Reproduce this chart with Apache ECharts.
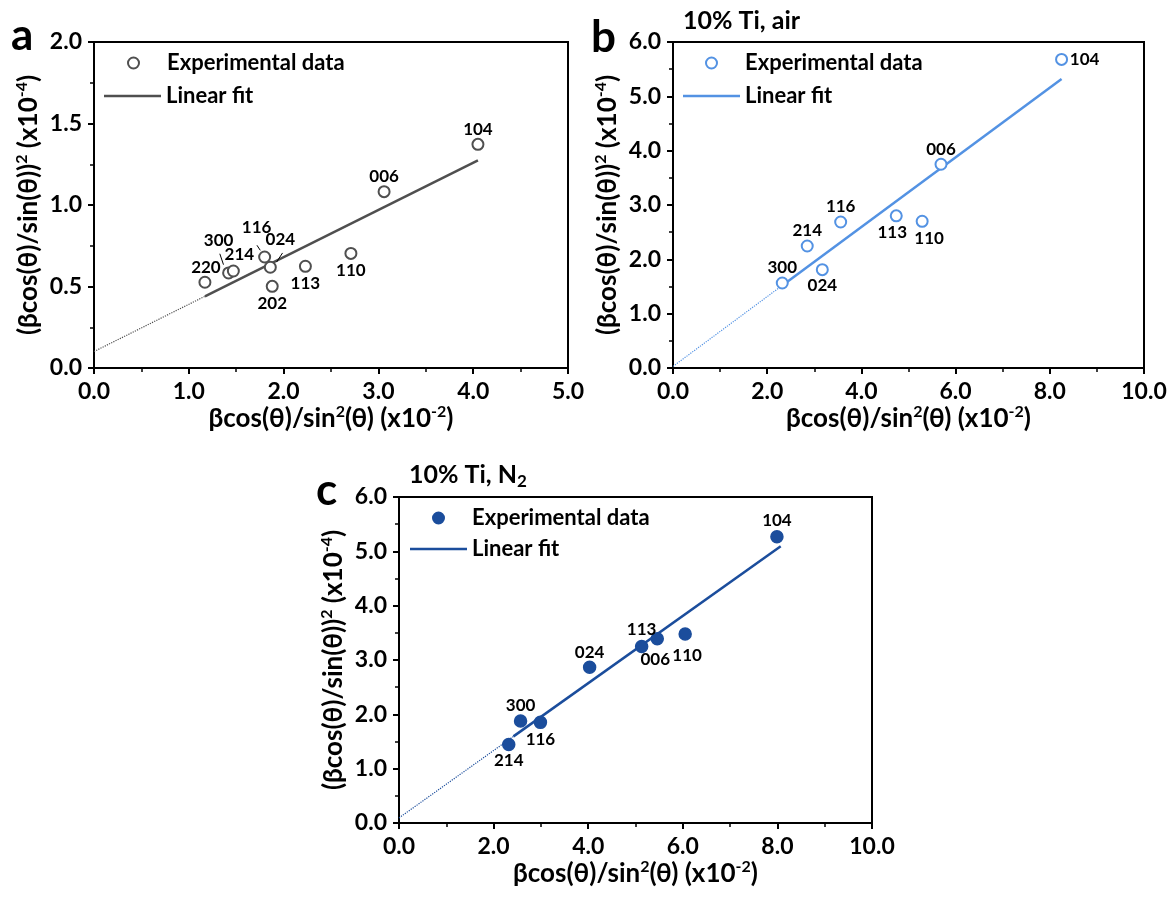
<html>
<head>
    <script src="https://cdn.jsdelivr.net/npm/echarts@6/dist/echarts.min.js"></script>
    <style>
        body { margin: 0 }
        #chart { width: 1174px; height: 899px; }
    </style>
</head>
<body>
<div id="chart"></div>
<script>
    // panel a
    const aX = [1.17, 1.42, 1.47, 1.80, 1.86, 1.88, 2.23, 2.71, 3.06, 4.05];
    const aY = [0.526, 0.583, 0.595, 0.681, 0.618, 0.501, 0.624, 0.703, 1.082, 1.372];
    const aLabels = ['220', '300', '214', '116', '024', '202', '113', '110', '006', '104'];
    const aFitX = [1.17, 4.05];
    const aFitY = [0.44, 1.274];
    const aExtX = [0, 1.17];
    const aExtY = [0.101, 0.44];
    // leader lines for crowded labels
    const aLeaders = [
        [[1.327, 0.701], [1.366, 0.634]],
        [[1.719, 0.753], [1.754, 0.722]],
        [[1.989, 0.706], [1.926, 0.650]]
    ];

    // panel b
    const bX = [2.32, 2.85, 3.17, 3.56, 4.74, 5.29, 5.69, 8.25];
    const bY = [1.564, 2.245, 1.81, 2.687, 2.80, 2.70, 3.75, 5.68];
    const bLabels = ['300', '214', '024', '116', '113', '110', '006', '104'];
    const bFitX = [2.32, 8.25];
    const bFitY = [1.52, 5.32];
    const bExtX = [0, 2.32];
    const bExtY = [0.03, 1.52];

    // panel c
    const cX = [2.32, 2.57, 2.99, 4.03, 5.13, 5.46, 6.05, 7.99];
    const cY = [1.446, 1.877, 1.852, 2.868, 3.25, 3.39, 3.477, 5.27];
    const cLabels = ['214', '300', '116', '024', '113', '006', '110', '104'];
    const cFitX = [2.42, 8.07];
    const cFitY = [1.594, 5.095];
    const cExtX = [0, 2.42];
    const cExtY = [0.094, 1.594];

    // label offsets (px) from point centre
    const aOffsets = [[1, -15], [-10, -32], [6, -16], [-8, -29], [10, -28], [0, 17], [0, 17], [0, 17], [0, -15], [0, -15]];
    const bOffsets = [[0, -16], [0, -16], [0, 16], [0, -15], [-4, 17], [7, 17], [0, -15], [23, 0]];
    const cOffsets = [[0, 16], [0, -16], [0, 17], [0, -15], [0, -17], [-2, 21], [2, 21], [0, -16]];

    const font = 'Lato';
    const grayC = '#4f4f4f';
    const lightC = '#5392e3';
    const darkC = '#1b4d9c';

    const legendText = {
        aExp: 'Experimental data', aFit: 'Linear fit',
        bExp: 'Experimental data', bFit: 'Linear fit',
        cExp: 'Experimental data', cFit: 'Linear fit'
    };

    const sup = { fontSize: 16, lineHeight: 16, fontWeight: 'bold', fontFamily: font, color: '#000', verticalAlign: 'top' };
    const nameStyle = {
        fontFamily: font, fontWeight: 'bold', fontSize: 26, color: '#000', lineHeight: 30,
        rich: { sup: sup }
    };
    const tickLabel = { margin: 12, color: '#000', fontFamily: font, fontWeight: 'bold', fontSize: 23,
        formatter: v => v.toFixed(1) };

    const pair = (xs, ys) => xs.map((x, i) => [x, ys[i]]);

    const makeX = (g, max, interval) => ({
        type: 'value', gridIndex: g, min: 0, max: max, interval: interval,
        name: 'βcos(θ)/sin{sup|2}(θ) (x10{sup|-2})',
        nameLocation: 'middle', nameGap: 30, nameTextStyle: nameStyle,
        axisLine: { lineStyle: { color: '#000', width: 2 } },
        axisTick: { length: 6, lineStyle: { color: '#000', width: 2 } },
        minorTick: { show: true, splitNumber: 2, length: 4, lineStyle: { color: '#000', width: 1.5 } },
        splitLine: { show: false },
        axisLabel: tickLabel
    });
    const makeY = (g, max, interval) => ({
        type: 'value', gridIndex: g, min: 0, max: max, interval: interval,
        name: '(βcos(θ)/sin(θ)){sup|2} (x10{sup|-4})',
        nameLocation: 'middle', nameGap: 50, nameTextStyle: nameStyle,
        axisLine: { lineStyle: { color: '#000', width: 2 } },
        axisTick: { length: 6, lineStyle: { color: '#000', width: 2 } },
        minorTick: { show: true, splitNumber: 2, length: 4, lineStyle: { color: '#000', width: 1.5 } },
        splitLine: { show: false },
        axisLabel: tickLabel
    });

    const points = (name, g, xs, ys, labels, offs, color, symbol, size) => ({
        type: 'scatter', name: name, xAxisIndex: g, yAxisIndex: g,
        symbol: symbol, symbolSize: size, z: 5,
        itemStyle: { color: color, borderColor: color, borderWidth: 1.5, opacity: 1 },
        data: xs.map((x, i) => ({ value: [x, ys[i]], label: { offset: offs[i] } })),
        label: {
            show: true, position: 'inside', color: '#000', fontFamily: font, fontWeight: 'bold', fontSize: 17,
            formatter: p => labels[p.dataIndex]
        }
    });
    const fit = (name, g, xs, ys, color) => ({
        type: 'line', name: name, xAxisIndex: g, yAxisIndex: g, symbol: 'none', z: 3,
        lineStyle: { color: color, width: 2.5 }, itemStyle: { color: color },
        data: pair(xs, ys)
    });
    const ext = (g, xs, ys, color) => ({
        type: 'line', name: 'ext' + g, xAxisIndex: g, yAxisIndex: g, symbol: 'none', z: 2,
        lineStyle: { color: color, width: 1.2, type: 'dotted' },
        data: pair(xs, ys)
    });

    // the point icon renders at its own width, so its legend is shifted right
    const legendFont = { color: '#000', fontFamily: font, fontWeight: 'bold', fontSize: 22 };
    const legendPoint = (left, top, name, icon) => ({
        left: left, top: top, orient: 'vertical', itemWidth: 57, itemHeight: 11, padding: 0,
        data: [{ name: name, icon: icon }], formatter: n => legendText[n], textStyle: legendFont
    });
    const legendLine = (left, top, name) => ({
        left: left, top: top, orient: 'vertical', itemWidth: 57, itemHeight: 2.5, padding: 0,
        data: [{ name: name, icon: 'rect' }], formatter: n => legendText[n], textStyle: legendFont
    });

    const letter = (t, left, top) => ({
        text: t, left: left, top: top, padding: 0,
        textStyle: { color: '#000', fontFamily: font, fontWeight: 'bold', fontSize: 44 }
    });

    const chart = echarts.init(document.getElementById('chart'));
    chart.setOption({
        animation: false,
        backgroundColor: '#fff',
        title: [
            letter('a', 11, 14),
            letter('b', 591, 16),
            letter('c', 316, 469),
            { text: '10% Ti, air', left: 683, top: 8, padding: 0,
              textStyle: { color: '#000', fontFamily: font, fontWeight: 'bold', fontSize: 25 } },
            { text: '10% Ti, N{sub|2}', left: 409, top: 460, padding: 0,
              textStyle: { color: '#000', fontFamily: font, fontWeight: 'bold', fontSize: 25, lineHeight: 30,
                  rich: { sub: { fontSize: 17, lineHeight: 17, fontWeight: 'bold', fontFamily: font, color: '#000', verticalAlign: 'bottom' } } } }
        ],
        legend: [
            legendPoint(127, 52, 'aExp', 'emptyCircle'),
            legendLine(104, 85, 'aFit'),
            legendPoint(705, 52, 'bExp', 'emptyCircle'),
            legendLine(683, 85, 'bFit'),
            legendPoint(432, 507, 'cExp', 'circle'),
            legendLine(410, 538, 'cFit')
        ],
        grid: [
            { left: 94, top: 42, width: 474, height: 326, show: true, borderColor: '#000', borderWidth: 2 },
            { left: 673, top: 42, width: 471, height: 326, show: true, borderColor: '#000', borderWidth: 2 },
            { left: 399, top: 497, width: 473, height: 326, show: true, borderColor: '#000', borderWidth: 2 }
        ],
        xAxis: [makeX(0, 5, 1), makeX(1, 10, 2), makeX(2, 10, 2)],
        yAxis: [makeY(0, 2, 0.5), makeY(1, 6, 1), makeY(2, 6, 1)],
        series: [
            ext(0, aExtX, aExtY, grayC),
            fit('aFit', 0, aFitX, aFitY, grayC),
            {
                type: 'lines', coordinateSystem: 'cartesian2d', xAxisIndex: 0, yAxisIndex: 0, z: 4,
                lineStyle: { color: '#000', width: 1, opacity: 1 },
                data: aLeaders.map(c => ({ coords: c }))
            },
            points('aExp', 0, aX, aY, aLabels, aOffsets, grayC, 'emptyCircle', 11),

            ext(1, bExtX, bExtY, lightC),
            fit('bFit', 1, bFitX, bFitY, lightC),
            points('bExp', 1, bX, bY, bLabels, bOffsets, lightC, 'emptyCircle', 11),

            ext(2, cExtX, cExtY, darkC),
            fit('cFit', 2, cFitX, cFitY, darkC),
            points('cExp', 2, cX, cY, cLabels, cOffsets, darkC, 'circle', 12)
        ]
    });
</script>
</body>
</html>
